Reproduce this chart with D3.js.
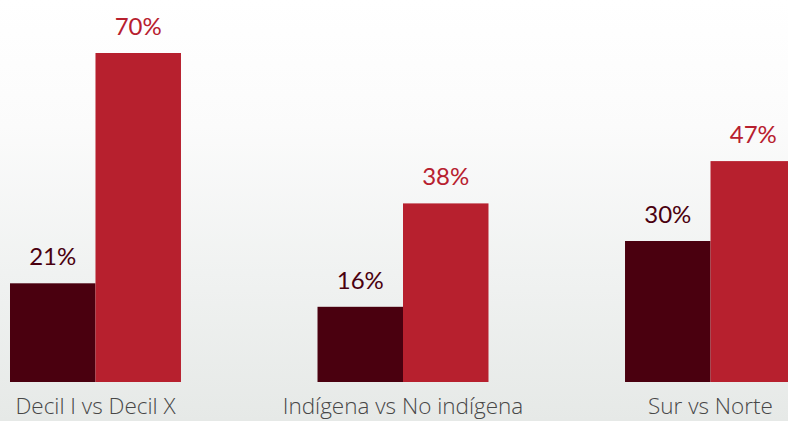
<!DOCTYPE html>
<html>
<head>
<meta charset="utf-8">
<script src="https://cdn.jsdelivr.net/npm/d3@7"></script>
<style>
  html, body { margin: 0; padding: 0; overflow: hidden; }
  svg { display: block; }
  .value { font-family: Lato, "Open Sans", sans-serif; font-size: 24px; font-weight: 400; text-anchor: middle; }
  .category { font-family: "Open Sans", sans-serif; font-size: 22.5px; font-weight: 300; fill: #474747; text-anchor: middle; }
</style>
</head>
<body>
<svg id="chart" width="788" height="421"></svg>
<script>
// data
const categories = ['Decil I vs Decil X', 'Indígena vs No indígena', 'Sur vs Norte'];
const seriesNames = ['bajo', 'alto'];
const lowValues = [21, 16, 30];
const highValues = [70, 38, 47];
const seriesColors = ['#4a000f', '#b7202e'];

const width = 788, height = 421;
const svg = d3.select('#chart');

// faded background
const defs = svg.append('defs');
const grad = defs.append('linearGradient')
    .attr('id', 'bg')
    .attr('x1', 0).attr('y1', 0).attr('x2', 0).attr('y2', 1);
grad.append('stop').attr('offset', '0%').attr('stop-color', '#ffffff');
grad.append('stop').attr('offset', '30%').attr('stop-color', '#fbfbfb');
grad.append('stop').attr('offset', '65%').attr('stop-color', '#f0f2f1');
grad.append('stop').attr('offset', '100%').attr('stop-color', '#e6e9e7');
svg.append('rect')
    .attr('width', width)
    .attr('height', height)
    .attr('fill', 'url(#bg)');

const x0 = d3.scaleBand()
    .domain(categories)
    .range([10, 796])
    .paddingInner(0.444)
    .paddingOuter(0);

const x1 = d3.scaleBand()
    .domain(seriesNames)
    .range([0, x0.bandwidth()]);

const y = d3.scaleLinear()
    .domain([0, 70])
    .range([382, 53]);

const rows = categories.map((c, i) => ({
    category: c,
    values: [
        {key: 'bajo', value: lowValues[i], color: seriesColors[0]},
        {key: 'alto', value: highValues[i], color: seriesColors[1]}
    ]
}));

const groups = svg.append('g')
    .selectAll('g')
    .data(rows)
    .enter()
    .append('g')
    .attr('transform', d => `translate(${x0(d.category)},0)`);

groups.selectAll('rect')
    .data(d => d.values)
    .enter()
    .append('rect')
    .attr('x', d => x1(d.key))
    .attr('y', d => y(d.value))
    .attr('width', x1.bandwidth())
    .attr('height', d => y(0) - y(d.value))
    .attr('fill', d => d.color);

groups.selectAll('text.value')
    .data(d => d.values)
    .enter()
    .append('text')
    .attr('class', 'value')
    .attr('x', d => x1(d.key) + x1.bandwidth() / 2)
    .attr('y', d => y(d.value) - 18)
    .attr('fill', d => d.color)
    .text(d => `${d.value}%`);

groups.append('text')
    .attr('class', 'category')
    .attr('x', x0.bandwidth() / 2)
    .attr('y', 414)
    .text(d => d.category);
</script>
</body>
</html>
